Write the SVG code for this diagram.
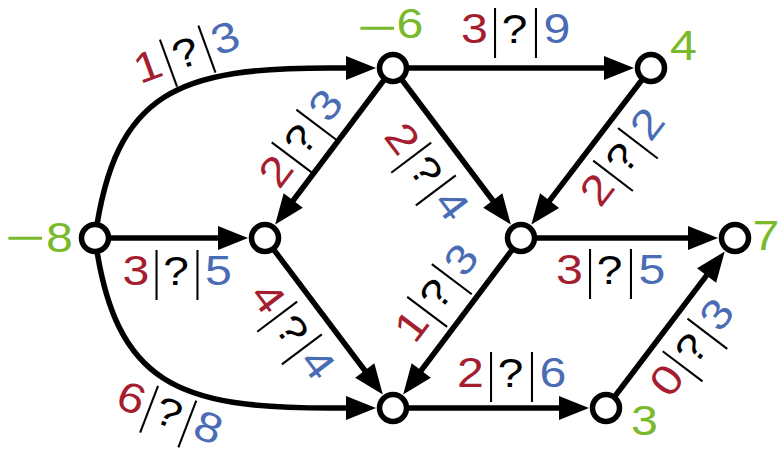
<svg xmlns="http://www.w3.org/2000/svg" width="780" height="449" viewBox="0 0 780 449">
<style>
  .edge{fill:none;stroke:#000;stroke-width:5.5;marker-end:url(#arr)}
  .node{fill:#fff;stroke:#000;stroke-width:5.5}
  text{font-family:"Liberation Sans",Arial,Helvetica,sans-serif;font-size:42px;text-anchor:middle}
  .r{fill:#a51e30}
  .b{fill:#4a6cb4}
  .q{fill:#000;font-size:40px}
  .g{fill:#7ab92c}
  .m{fill:#7ab92c;text-anchor:start}
  .bar{stroke:#000;stroke-width:1.8}
</style>
<defs>
  <marker id="arr" markerUnits="userSpaceOnUse" viewBox="-24 -13 34 26" markerWidth="34" markerHeight="26" refX="0" refY="0" orient="auto">
    <path d="M8,0 L-22,-12 L-22,12 Z" fill="#000"/>
  </marker>
</defs>
<g id="connectors">
  <path class="edge" d="M95,238 C115,90 180,68 330,68 L368,68"/>
  <path class="edge" d="M95,238 C115,386 180,408 330,408 L368,408"/>
  <path class="edge" d="M95,238 L240,238"/>
  <path class="edge" d="M393,68 L626,68"/>
  <path class="edge" d="M393,68 L280,218"/>
  <path class="edge" d="M393,68 L506,218"/>
  <path class="edge" d="M651,68 L536.2,218.1"/>
  <path class="edge" d="M521,238 L710,238"/>
  <path class="edge" d="M265,238 L378,388"/>
  <path class="edge" d="M521,238 L408,388"/>
  <path class="edge" d="M393,408 L581,408"/>
  <path class="edge" d="M606,408 L719.9,257.9"/>
</g>
<g id="edge-labels">
  <g transform="translate(186,51.5) rotate(-20) scale(1.15,1)"><text x="-35.7" y="15" class="r">1</text><line class="bar" x1="-17.8" y1="-20" x2="-17.8" y2="30"/><text x="-0.9" y="15" class="q">?</text><line class="bar" x1="17.8" y1="-20" x2="17.8" y2="30"/><text x="36.1" y="15" class="b">3</text></g>
  <g transform="translate(515.5,28) scale(1.15,1)"><text x="-35.7" y="15" class="r">3</text><line class="bar" x1="-17.8" y1="-20" x2="-17.8" y2="30"/><text x="-0.9" y="15" class="q">?</text><line class="bar" x1="17.8" y1="-20" x2="17.8" y2="30"/><text x="36.1" y="15" class="b">9</text></g>
  <g transform="translate(300,138) rotate(-53) scale(1.15,1)"><text x="-35.7" y="15" class="r">2</text><line class="bar" x1="-17.8" y1="-20" x2="-17.8" y2="30"/><text x="-0.9" y="15" class="q">?</text><line class="bar" x1="17.8" y1="-20" x2="17.8" y2="30"/><text x="36.1" y="15" class="b">3</text></g>
  <g transform="translate(427.5,171) rotate(53) scale(1.15,1)"><text x="-35.7" y="15" class="r">2</text><line class="bar" x1="-17.8" y1="-20" x2="-17.8" y2="30"/><text x="-0.9" y="15" class="q">?</text><line class="bar" x1="17.8" y1="-20" x2="17.8" y2="30"/><text x="36.1" y="15" class="b">4</text></g>
  <g transform="translate(621.5,156.5) rotate(-52.6) scale(1.15,1)"><text x="-35.7" y="15" class="r">2</text><line class="bar" x1="-17.8" y1="-20" x2="-17.8" y2="30"/><text x="-0.9" y="15" class="q">?</text><line class="bar" x1="17.8" y1="-20" x2="17.8" y2="30"/><text x="36.1" y="15" class="b">2</text></g>
  <g transform="translate(177,270) scale(1.15,1)"><text x="-35.7" y="15" class="r">3</text><line class="bar" x1="-17.8" y1="-20" x2="-17.8" y2="30"/><text x="-0.9" y="15" class="q">?</text><line class="bar" x1="17.8" y1="-20" x2="17.8" y2="30"/><text x="36.1" y="15" class="b">5</text></g>
  <g transform="translate(610.5,269) scale(1.15,1)"><text x="-35.7" y="15" class="r">3</text><line class="bar" x1="-17.8" y1="-20" x2="-17.8" y2="30"/><text x="-0.9" y="15" class="q">?</text><line class="bar" x1="17.8" y1="-20" x2="17.8" y2="30"/><text x="36.1" y="15" class="b">5</text></g>
  <g transform="translate(293.5,330) rotate(53) scale(1.15,1)"><text x="-35.7" y="15" class="r">4</text><line class="bar" x1="-17.8" y1="-20" x2="-17.8" y2="30"/><text x="-0.9" y="15" class="q">?</text><line class="bar" x1="17.8" y1="-20" x2="17.8" y2="30"/><text x="36.1" y="15" class="b">4</text></g>
  <g transform="translate(435.5,292.5) rotate(-53) scale(1.15,1)"><text x="-35.7" y="15" class="r">1</text><line class="bar" x1="-17.8" y1="-20" x2="-17.8" y2="30"/><text x="-0.9" y="15" class="q">?</text><line class="bar" x1="17.8" y1="-20" x2="17.8" y2="30"/><text x="36.1" y="15" class="b">3</text></g>
  <g transform="translate(170,412) rotate(21) scale(1.15,1)"><text x="-35.7" y="15" class="r">6</text><line class="bar" x1="-17.8" y1="-20" x2="-17.8" y2="30"/><text x="-0.9" y="15" class="q">?</text><line class="bar" x1="17.8" y1="-20" x2="17.8" y2="30"/><text x="36.1" y="15" class="b">8</text></g>
  <g transform="translate(511.5,372) scale(1.15,1)"><text x="-35.7" y="15" class="r">2</text><line class="bar" x1="-17.8" y1="-20" x2="-17.8" y2="30"/><text x="-0.9" y="15" class="q">?</text><line class="bar" x1="17.8" y1="-20" x2="17.8" y2="30"/><text x="36.1" y="15" class="b">6</text></g>
  <g transform="translate(691,347) rotate(-52.8) scale(1.15,1)"><text x="-35.7" y="15" class="r">0</text><line class="bar" x1="-17.8" y1="-20" x2="-17.8" y2="30"/><text x="-0.9" y="15" class="q">?</text><line class="bar" x1="17.8" y1="-20" x2="17.8" y2="30"/><text x="36.1" y="15" class="b">3</text></g>
</g>
<g id="nA"><circle class="node" cx="95" cy="238" r="13.5"/><text class="m" transform="translate(5,252) scale(1.65,1)">−</text><text class="g" transform="translate(59.5,252) scale(1.15,1)">8</text></g>
<g id="nB"><circle class="node" cx="393" cy="68" r="13.5"/><text class="m" transform="translate(357,42) scale(1.65,1)">−</text><text class="g" transform="translate(410,38) scale(1.15,1)">6</text></g>
<g id="nC"><circle class="node" cx="651" cy="68" r="13.5"/><text class="g" transform="translate(683.5,60) scale(1.15,1)">4</text></g>
<g id="nD"><circle class="node" cx="265" cy="238" r="13.5"/></g>
<g id="nE"><circle class="node" cx="521" cy="238" r="13.5"/></g>
<g id="nF"><circle class="node" cx="735" cy="238" r="13.5"/><text class="g" transform="translate(766,250) scale(1.15,1)">7</text></g>
<g id="nG"><circle class="node" cx="393" cy="408" r="13.5"/></g>
<g id="nH"><circle class="node" cx="606" cy="408" r="13.5"/><text class="g" transform="translate(644.5,435) scale(1.15,1)">3</text></g>
</svg>
